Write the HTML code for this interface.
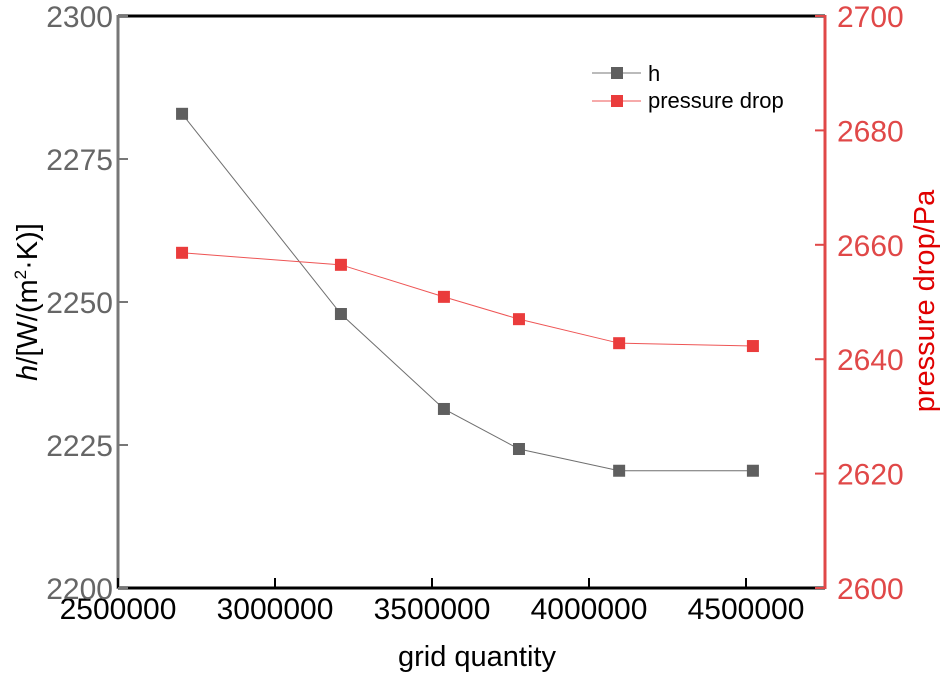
<!DOCTYPE html>
<html><head><meta charset="utf-8"><style>
body{margin:0;background:#fff;}
svg text{font-family:"Liberation Sans",Arial,sans-serif;}
</style></head><body>
<svg id="chart" width="943" height="674" xmlns="http://www.w3.org/2000/svg">
<g id="g"></g>
</svg>
<script>
const gridQuantity=[2704000,3210000,3538000,3777000,4096000,4522000];
const hValues=[2282.9,2247.9,2231.3,2224.3,2220.5,2220.5];
const pressureValues=[2658.6,2656.5,2650.9,2647.0,2642.8,2642.3];
const xTicks=[2500000,3000000,3500000,4000000,4500000];
const yLeftTicks=[2200,2225,2250,2275,2300];
const yRightTicks=[2600,2620,2640,2660,2680,2700];

const L=118,R=825,T=16,B=588;
const X=v=>L+(v-2500000)/500000*157;
const YL=v=>B-(v-2200)/100*(B-T);
const YR=v=>B-(v-2600)/100*(B-T);
const g=document.getElementById('g');
const NS='http://www.w3.org/2000/svg';
function mk(t,a,txt){const e=document.createElementNS(NS,t);for(const k in a)e.setAttribute(k,a[k]);if(txt!==undefined)e.textContent=txt;g.appendChild(e);return e;}

let e;
e=mk('line',{x1:L,y1:T,x2:R,y2:T,stroke:'#000','stroke-width':3});


e=mk('line',{x1:L,y1:B,x2:R,y2:B,stroke:'#000','stroke-width':3});


e=mk('line',{x1:L,y1:T-1,x2:L,y2:B+1,stroke:'#777','stroke-width':3});


e=mk('line',{x1:R,y1:T-1,x2:R,y2:B+1,stroke:'#e04848','stroke-width':3});



xTicks.forEach(v=>{
 const x=X(v);
 e=mk('line',{x1:x,y1:B,x2:x,y2:B-10,stroke:'#000','stroke-width':2});
 
 
 e=mk('text',{x:x,y:B+31,'font-size':30,'text-anchor':'middle',fill:'#000'},String(v));
 
 
});
yLeftTicks.forEach(v=>{
 const y=YL(v);
 e=mk('line',{x1:L,y1:y,x2:L+10,y2:y,stroke:'#777','stroke-width':2});
 
 
 e=mk('text',{x:L-5,y:y+11,'font-size':30,'text-anchor':'end',fill:'#666'},String(v));
 
 
});
yRightTicks.forEach(v=>{
 const y=YR(v);
 e=mk('line',{x1:R,y1:y,x2:R-10,y2:y,stroke:'#e04848','stroke-width':2});
 
 
 e=mk('text',{x:R+12,y:y+11,'font-size':30,'text-anchor':'start',fill:'#e04848'},String(v));
 
 
});

e=mk('text',{x:477,y:666,'font-size':29,'text-anchor':'middle',fill:'#000'},'grid quantity');


e=mk('text',{transform:'translate(37,302) rotate(-90)','font-size':29,'text-anchor':'middle',fill:'#000'});


e.innerHTML='<tspan font-style="italic">h</tspan>/[W/(m<tspan font-size="17" dy="-11">2</tspan><tspan dy="11">·K)]</tspan>';
e=mk('text',{transform:'translate(934,301) rotate(-90)','font-size':29,'text-anchor':'middle',fill:'#e00000'},'pressure drop/Pa');



function series(vals,Y,col,lineCol,name){
 const pts=vals.map((v,i)=>X(gridQuantity[i])+','+Y(v)).join(' ');
 e=mk('polyline',{points:pts,fill:'none',stroke:lineCol,'stroke-width':1});
 
 
 vals.forEach((v,i)=>{
  e=mk('rect',{x:X(gridQuantity[i])-6,y:Y(v)-6,width:12,height:12,fill:col});
  
  
 });
}
series(hValues,YL,'#5f5f5f','#6f6f6f','h');
series(pressureValues,YR,'#ea3c3c','#ee5555','pressure-drop');

e=mk('line',{x1:592,y1:73,x2:641,y2:73,stroke:'#777','stroke-width':1});


e=mk('rect',{x:611,y:67,width:12,height:12,fill:'#5f5f5f'});


e=mk('text',{x:648,y:81,'font-size':22,fill:'#000'},'h');


e=mk('line',{x1:592,y1:101,x2:641,y2:101,stroke:'#ee5555','stroke-width':1});


e=mk('rect',{x:611,y:95,width:12,height:12,fill:'#ea3c3c'});


e=mk('text',{x:648,y:108,'font-size':22,fill:'#000'},'pressure drop');


</script>
</body></html>
